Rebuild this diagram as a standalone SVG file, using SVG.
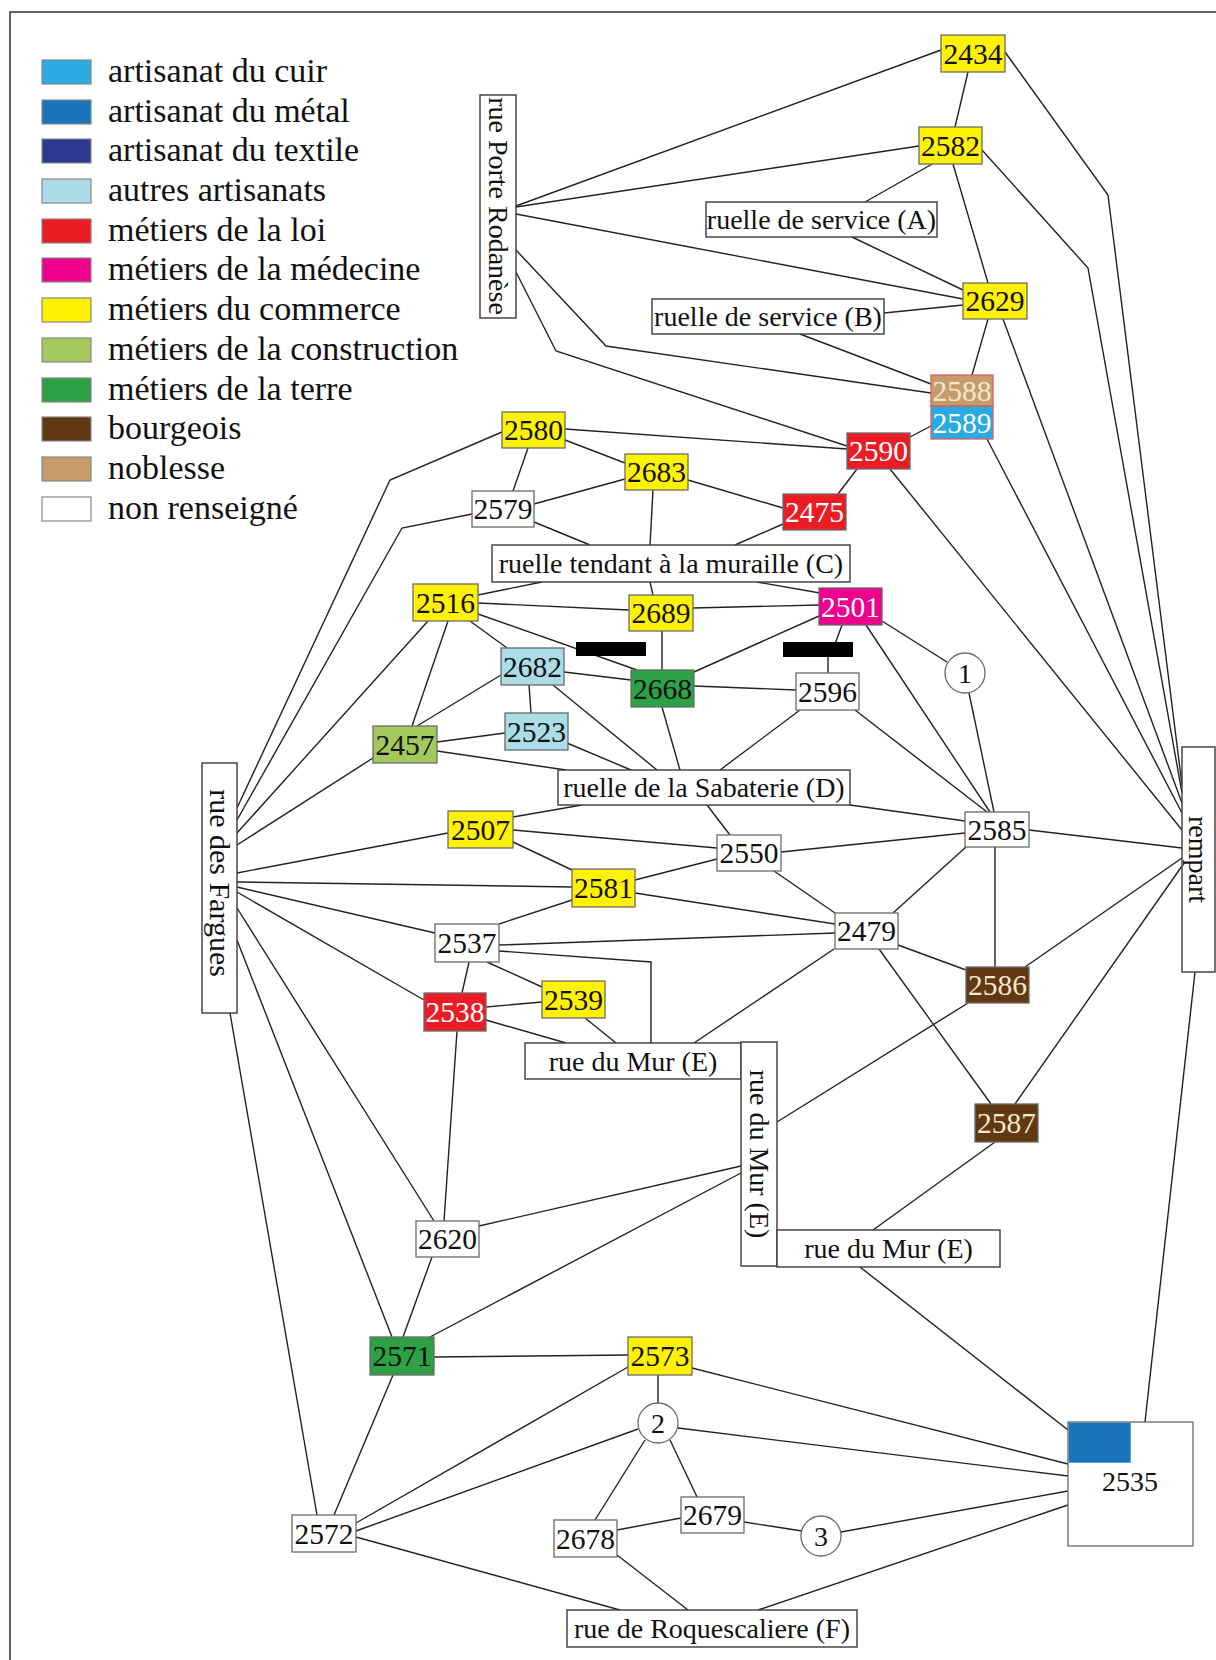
<svg xmlns="http://www.w3.org/2000/svg" width="1216" height="1660" viewBox="0 0 1216 1660">
<style>
text{font-family:"Liberation Serif","Times New Roman",serif;font-size:28px;fill:#111;text-anchor:middle}
.num{font-size:29.5px}
.lg{font-size:34px;text-anchor:start}
.n{stroke:#6a6a6a;stroke-width:1.3}
.st{fill:#fff;stroke:#3a3a3a;stroke-width:1.4}
.sw{stroke:#888;stroke-width:1.2}
.w{fill:#fff}
.cuir{fill:#29abe2}.metal{fill:#1b75bc}.textile{fill:#2b3990}.autres{fill:#aadde8}
.loi{fill:#ec1c24}.med{fill:#ec008c}.com{fill:#fff200}.cons{fill:#a3c95c}
.terre{fill:#2ea147}.bourg{fill:#603913}.nob{fill:#c69c6d}
.tw{fill:#fff}.tc{fill:#f6e8cc}
#connectors path{fill:none;stroke:#222;stroke-width:1.4}
</style>
<rect width="1216" height="1660" fill="#fff"/>
<path d="M10,1660 L10,12 L1216,12" fill="none" stroke="#333" stroke-width="1.5"/>

<g id="legend">
<rect class="sw cuir" x="42" y="60" width="49" height="24"/><text class="lg" x="108" y="82">artisanat du cuir</text>
<rect class="sw metal" x="42" y="100" width="49" height="24"/><text class="lg" x="108" y="122">artisanat du métal</text>
<rect class="sw textile" x="42" y="139" width="49" height="24"/><text class="lg" x="108" y="161">artisanat du textile</text>
<rect class="sw autres" x="42" y="179" width="49" height="24"/><text class="lg" x="108" y="201">autres artisanats</text>
<rect class="sw loi" x="42" y="219" width="49" height="24"/><text class="lg" x="108" y="241">métiers de la loi</text>
<rect class="sw med" x="42" y="258" width="49" height="24"/><text class="lg" x="108" y="280">métiers de la médecine</text>
<rect class="sw com" x="42" y="298" width="49" height="24"/><text class="lg" x="108" y="320">métiers du commerce</text>
<rect class="sw cons" x="42" y="338" width="49" height="24"/><text class="lg" x="108" y="360">métiers de la construction</text>
<rect class="sw terre" x="42" y="378" width="49" height="24"/><text class="lg" x="108" y="400">métiers de la terre</text>
<rect class="sw bourg" x="42" y="417" width="49" height="24"/><text class="lg" x="108" y="439">bourgeois</text>
<rect class="sw nob" x="42" y="457" width="49" height="24"/><text class="lg" x="108" y="479">noblesse</text>
<rect class="sw w" x="42" y="497" width="49" height="24"/><text class="lg" x="108" y="519">non renseigné</text>
</g>

<g id="connectors">
<path d="M516,206 L941,50"/>
<path d="M516,207 L919,146"/>
<path d="M516,214 L963,299"/>
<path d="M516,250 L606,346 L931,393"/>
<path d="M516,272 L556,351 L847,446"/>
<path d="M968,72 L955,127"/>
<path d="M1005,52 L1108,195 L1182,785"/>
<path d="M982,150 L1088,268 L1182,793"/>
<path d="M934,163 L865,202"/>
<path d="M953,164 L988,283"/>
<path d="M852,237 L963,290"/>
<path d="M884,313 L963,305"/>
<path d="M800,334 L931,384"/>
<path d="M988,319 L972,375"/>
<path d="M1003,319 L1182,803"/>
<path d="M987,439 L1182,813"/>
<path d="M931,426 L910,437"/>
<path d="M890,469 L1182,830"/>
<path d="M565,429 L847,449"/>
<path d="M565,440 L625,463"/>
<path d="M528,448 L513,491"/>
<path d="M534,504 L625,479"/>
<path d="M688,480 L783,508"/>
<path d="M838,494 L857,469"/>
<path d="M653,490 L650,545"/>
<path d="M534,522 L590,545"/>
<path d="M783,524 L735,545"/>
<path d="M237,808 L390,480 L502,432"/>
<path d="M237,820 L402,528 L472,514"/>
<path d="M237,833 L428,621"/>
<path d="M237,845 L373,758"/>
<path d="M448,621 L412,726"/>
<path d="M470,621 L507,648"/>
<path d="M478,603 L629,610"/>
<path d="M478,595 L542,582"/>
<path d="M478,614 L637,670"/>
<path d="M501,675 L417,726"/>
<path d="M529,685 L531,713"/>
<path d="M564,672 L631,680"/>
<path d="M553,685 L657,770"/>
<path d="M505,733 L437,742"/>
<path d="M567,743 L631,770"/>
<path d="M437,751 L566,770"/>
<path d="M662,707 L680,770"/>
<path d="M662,631 L662,670"/>
<path d="M650,582 L653,595"/>
<path d="M757,582 L820,593"/>
<path d="M693,608 L819,605"/>
<path d="M819,616 L694,672"/>
<path d="M842,625 L835,644"/>
<path d="M828,656 L828,673"/>
<path d="M694,686 L796,690"/>
<path d="M800,710 L720,770"/>
<path d="M855,710 L987,812"/>
<path d="M866,625 L990,812"/>
<path d="M882,621 L947,662"/>
<path d="M969,693 L994,812"/>
<path d="M850,805 L965,821"/>
<path d="M707,805 L730,835"/>
<path d="M781,852 L965,833"/>
<path d="M1029,830 L1182,848"/>
<path d="M966,847 L893,913"/>
<path d="M995,847 L995,967"/>
<path d="M774,871 L835,913"/>
<path d="M635,880 L717,859"/>
<path d="M635,893 L835,924"/>
<path d="M499,945 L835,933"/>
<path d="M898,945 L966,970"/>
<path d="M879,949 L991,1104"/>
<path d="M834,949 L694,1043"/>
<path d="M1025,967 L1182,858"/>
<path d="M1182,866 L1015,1104"/>
<path d="M968,1003 L777,1122"/>
<path d="M995,1142 L873,1230"/>
<path d="M860,1267 L1068,1430"/>
<path d="M1195,972 L1145,1422"/>
<path d="M479,1226 L741,1166"/>
<path d="M430,1337 L741,1173"/>
<path d="M237,873 L448,833"/>
<path d="M237,882 L572,887"/>
<path d="M237,887 L435,933"/>
<path d="M237,892 L424,1000"/>
<path d="M237,908 L434,1221"/>
<path d="M237,940 L392,1337"/>
<path d="M230,1013 L317,1515"/>
<path d="M513,817 L582,805"/>
<path d="M513,830 L717,848"/>
<path d="M513,842 L572,870"/>
<path d="M499,924 L572,900"/>
<path d="M499,951 L651,962 L651,1043"/>
<path d="M487,962 L542,987"/>
<path d="M469,962 L462,993"/>
<path d="M486,1007 L542,1002"/>
<path d="M486,1020 L566,1043"/>
<path d="M585,1018 L616,1043"/>
<path d="M457,1031 L444,1221"/>
<path d="M432,1257 L403,1337"/>
<path d="M434,1357 L628,1355"/>
<path d="M393,1375 L334,1515"/>
<path d="M628,1367 L356,1523"/>
<path d="M658,1375 L658,1403"/>
<path d="M692,1368 L1068,1464"/>
<path d="M638,1429 L356,1531"/>
<path d="M678,1428 L1068,1476"/>
<path d="M645,1440 L595,1520"/>
<path d="M670,1440 L697,1497"/>
<path d="M617,1530 L681,1518"/>
<path d="M744,1522 L802,1531"/>
<path d="M841,1532 L1068,1491"/>
<path d="M617,1555 L688,1610"/>
<path d="M356,1537 L620,1610"/>
<path d="M758,1610 L1068,1505"/>
</g>

<g id="rue-porte-rodanese"><rect class="st" x="480" y="95" width="36" height="223"/><text transform="translate(498,206) rotate(90)" y="9.5">rue Porte Rodanèse</text></g>
<g id="n2434"><rect class="n com" x="941" y="35" width="64" height="37"/><text class="num" x="973" y="63.5">2434</text></g>
<g id="n2582"><rect class="n com" x="919" y="127" width="63" height="37"/><text class="num" x="950.5" y="155.5">2582</text></g>
<g id="ruelle-A"><rect class="st" x="706" y="202" width="231" height="35"/><text x="821.5" y="229">ruelle de service (A)</text></g>
<g id="n2629"><rect class="n com" x="963" y="283" width="64" height="36"/><text class="num" x="995" y="311">2629</text></g>
<g id="ruelle-B"><rect class="st" x="652" y="299" width="232" height="35"/><text x="768" y="326">ruelle de service (B)</text></g>
<g id="n2588"><rect class="nob" x="931" y="375" width="62" height="31" stroke="#d96060" stroke-width="1.3"/><text class="num tc" x="962" y="400.5">2588</text></g>
<g id="n2589"><rect class="cuir" x="931" y="406" width="62" height="33" stroke="#d96060" stroke-width="1.3"/><text class="num tw" x="962" y="432.5">2589</text></g>
<g id="n2580"><rect class="n com" x="502" y="412" width="63" height="36"/><text class="num" x="533.5" y="440">2580</text></g>
<g id="n2590"><rect class="n loi" x="847" y="433" width="63" height="36"/><text class="num tw" x="878.5" y="461">2590</text></g>
<g id="n2683"><rect class="n com" x="625" y="454" width="63" height="36"/><text class="num" x="656.5" y="482">2683</text></g>
<g id="n2579"><rect class="n w" x="472" y="491" width="62" height="36"/><text class="num" x="503" y="519">2579</text></g>
<g id="n2475"><rect class="n loi" x="783" y="494" width="63" height="36"/><text class="num tw" x="814.5" y="522">2475</text></g>
<g id="ruelle-C"><rect class="st" x="492" y="545" width="358" height="37"/><text x="671" y="573">ruelle tendant à la muraille (C)</text></g>
<g id="n2516"><rect class="n com" x="413" y="584" width="65" height="37"/><text class="num" x="445.5" y="612.5">2516</text></g>
<g id="n2689"><rect class="n com" x="629" y="595" width="64" height="36"/><text class="num" x="661" y="623">2689</text></g>
<g id="n2501"><rect class="n med" x="819" y="588" width="63" height="37"/><text class="num tw" x="850.5" y="616.5">2501</text></g>
<g id="bar1"><rect x="576" y="642" width="70" height="14" fill="#000"/></g>
<g id="bar2"><rect x="783" y="642" width="70" height="15" fill="#000"/></g>
<g id="n2682"><rect class="n autres" x="501" y="648" width="63" height="37"/><text class="num" x="532.5" y="676.5">2682</text></g>
<g id="n2668"><rect class="n terre" x="631" y="670" width="63" height="37"/><text class="num" x="662.5" y="698.5">2668</text></g>
<g id="n2596"><rect class="n w" x="796" y="673" width="63" height="37"/><text class="num" x="827.5" y="701.5">2596</text></g>
<g id="c1"><circle cx="965" cy="673" r="20" fill="#fff" stroke="#6a6a6a" stroke-width="1.3"/><text x="965" y="683">1</text></g>
<g id="n2523"><rect class="n autres" x="505" y="713" width="63" height="37"/><text class="num" x="536.5" y="741.5">2523</text></g>
<g id="n2457"><rect class="n cons" x="373" y="726" width="64" height="37"/><text class="num" x="405" y="754.5">2457</text></g>
<g id="ruelle-D"><rect class="st" x="558" y="770" width="292" height="35"/><text x="704" y="797">ruelle de la Sabaterie (D)</text></g>
<g id="rue-des-fargues"><rect class="st" x="202" y="763" width="35" height="250"/><text transform="translate(219.5,883) rotate(90)" y="10" style="font-size:30px">rue des Fargues</text></g>
<g id="rempart"><rect class="st" x="1182" y="747" width="33" height="225"/><text transform="translate(1198.5,859.5) rotate(90)" y="9.5">rempart</text></g>
<g id="n2507"><rect class="n com" x="448" y="811" width="65" height="37"/><text class="num" x="480.5" y="839.5">2507</text></g>
<g id="n2585"><rect class="n w" x="965" y="812" width="64" height="35"/><text class="num" x="997" y="839.5">2585</text></g>
<g id="n2550"><rect class="n w" x="717" y="835" width="64" height="36"/><text class="num" x="749" y="863">2550</text></g>
<g id="n2581"><rect class="n com" x="572" y="869" width="63" height="38"/><text class="num" x="603.5" y="898">2581</text></g>
<g id="n2479"><rect class="n w" x="835" y="913" width="63" height="36"/><text class="num" x="866.5" y="941">2479</text></g>
<g id="n2537"><rect class="n w" x="435" y="924" width="64" height="38"/><text class="num" x="467" y="953">2537</text></g>
<g id="n2586"><rect class="n bourg" x="966" y="967" width="63" height="36"/><text class="num tc" x="997.5" y="995">2586</text></g>
<g id="n2539"><rect class="n com" x="542" y="981" width="63" height="37"/><text class="num" x="573.5" y="1009.5">2539</text></g>
<g id="n2538"><rect class="n loi" x="424" y="993" width="62" height="38"/><text class="num tw" x="455" y="1022">2538</text></g>
<g id="rue-du-mur-1"><rect class="st" x="525" y="1043" width="216" height="36"/><text x="633" y="1070.5">rue du Mur (E)</text></g>
<g id="rue-du-mur-2"><rect class="st" x="741" y="1042" width="36" height="224"/><text transform="translate(759,1154) rotate(90)" y="9.5">rue du Mur (E)</text></g>
<g id="rue-du-mur-3"><rect class="st" x="777" y="1230" width="223" height="37"/><text x="888.5" y="1258">rue du Mur (E)</text></g>
<g id="n2587"><rect class="n bourg" x="975" y="1104" width="63" height="38"/><text class="num tc" x="1006.5" y="1133">2587</text></g>
<g id="n2620"><rect class="n w" x="416" y="1221" width="63" height="36"/><text class="num" x="447.5" y="1249">2620</text></g>
<g id="n2571"><rect class="n terre" x="370" y="1337" width="64" height="38"/><text class="num" x="402" y="1366">2571</text></g>
<g id="n2573"><rect class="n com" x="628" y="1337" width="64" height="38"/><text class="num" x="660" y="1366">2573</text></g>
<g id="c2"><circle cx="658" cy="1423" r="20" fill="#fff" stroke="#6a6a6a" stroke-width="1.3"/><text x="658" y="1433">2</text></g>
<g id="n2535"><rect class="n w" x="1068" y="1422" width="125" height="124"/><rect class="metal" x="1068.7" y="1422.7" width="62" height="40"/><text x="1130" y="1491">2535</text></g>
<g id="n2679"><rect class="n w" x="681" y="1497" width="63" height="36"/><text class="num" x="712.5" y="1525">2679</text></g>
<g id="n2572"><rect class="n w" x="292" y="1515" width="64" height="37"/><text class="num" x="324" y="1543.5">2572</text></g>
<g id="n2678"><rect class="n w" x="554" y="1520" width="63" height="37"/><text class="num" x="585.5" y="1548.5">2678</text></g>
<g id="c3"><circle cx="821" cy="1536" r="20" fill="#fff" stroke="#6a6a6a" stroke-width="1.3"/><text x="821" y="1546">3</text></g>
<g id="rue-roquescaliere"><rect class="st" x="567" y="1610" width="290" height="37"/><text x="712" y="1638">rue de Roquescaliere (F)</text></g>
</svg>
